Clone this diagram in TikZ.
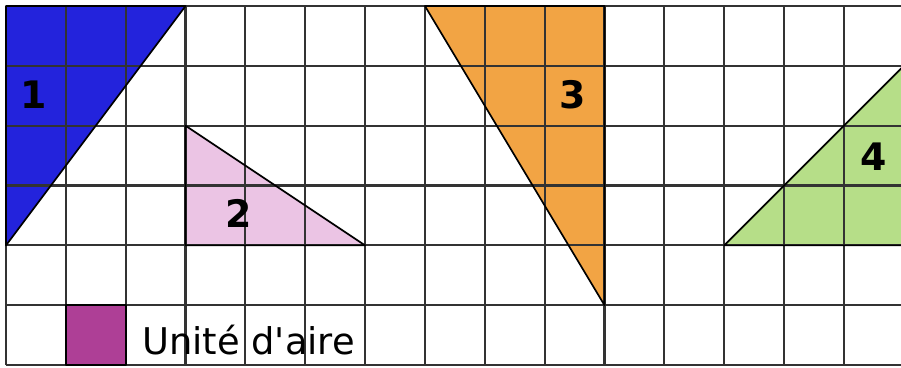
\documentclass[tikz,border=0pt]{standalone}
\usepackage{fontspec}
\setmainfont{DejaVu Sans}
\definecolor{bluetri}{HTML}{2323DC}
\definecolor{pinktri}{HTML}{EBC4E4}
\definecolor{orangetri}{HTML}{F2A444}
\definecolor{greentri}{HTML}{B6DE88}
\definecolor{unitcol}{HTML}{AE3F96}
\definecolor{gridcol}{HTML}{333333}
\begin{document}
\begin{tikzpicture}[x=1cm,y=1cm,
  gridline/.style={draw=gridcol,line width=1pt},
  edgeline/.style={draw=black,line width=0.8pt,line join=round},
  numlabel/.style={font=\fontsize{18}{20}\selectfont\bfseries,text=black,inner sep=0pt},
  unitlabel/.style={font=\fontsize{17.5}{20}\selectfont,text=black,inner sep=0pt,anchor=base west}]
\useasboundingbox (-0.1,0.1) rectangle (14.954,-6.032);
\clip (-0.1,0.1) rectangle (14.954,-6.032);
\fill[white] (-0.1,0.1) rectangle (14.954,-6.032);
% fills
\fill[bluetri] (0,0) -- (3,0) -- (0,-4) -- cycle;
\fill[pinktri] (3,-2) -- (3,-4) -- (6,-4) -- cycle;
\fill[orangetri] (7,0) -- (10,0) -- (10,-5) -- cycle;
\fill[greentri] (12,-4) -- (15,-1) -- (15,-4) -- cycle;
\fill[unitcol] (1,-5) rectangle (2,-6);
% grid
\draw[gridline] (0,0) grid (15,-6);
% triangle edges
\draw[edgeline] (0,0) -- (3,0) -- (0,-4) -- cycle;
\draw[edgeline] (3,-2) -- (3,-4) -- (6,-4) -- cycle;
\draw[edgeline] (7,0) -- (10,0) -- (10,-5) -- cycle;
\draw[edgeline] (12,-4) -- (15,-1) -- (15,-4) -- cycle;
\draw[edgeline] (1,-5) rectangle (2,-6);
% labels
\node[numlabel] (l1) at (0.47,-1.49) {1};
\node[numlabel] (l2) at (3.88,-3.46) {2};
\node[numlabel] (l3) at (9.46,-1.49) {3};
\node[numlabel] (l4) at (14.49,-2.52) {4};
\node[unitlabel] (unit) at (2.27,-5.83) {Unité d\textquotesingle aire};
\end{tikzpicture}
\end{document}
